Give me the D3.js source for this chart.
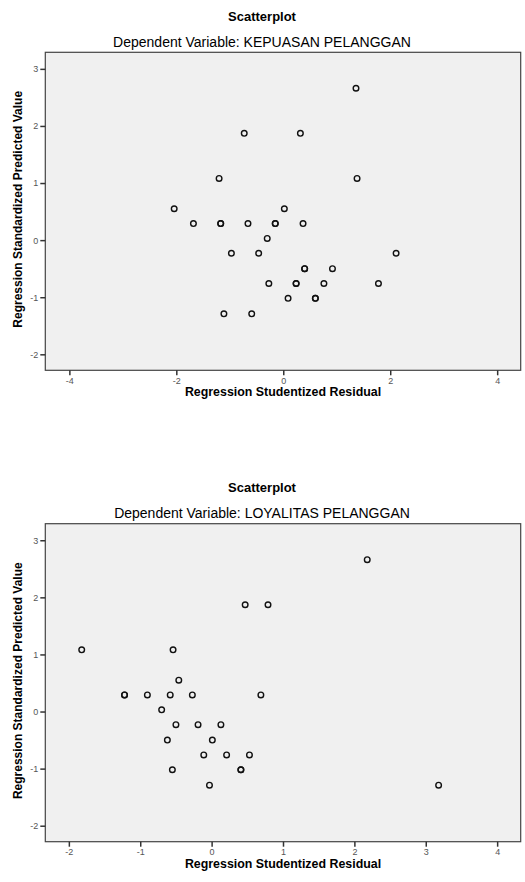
<!DOCTYPE html>
<html>
<head>
<meta charset="utf-8">
<script src="https://cdn.jsdelivr.net/npm/d3@7"></script>
<style>
  body { margin: 0; background: #fff; }
  svg { display: block; }
  text { font-family: "Liberation Sans", Arial, sans-serif; }
</style>
</head>
<body>
<svg id="chart" width="525" height="882"></svg>
<script>
// chart 1 - KEPUASAN PELANGGAN
const residual1 = [1.36, -0.73, 0.32, -1.20, 1.38, -2.04, 0.02, -1.68, -1.17, -1.17, -0.66, -0.15, -0.15, 0.37,
                   -0.30, -0.97, -0.46, 2.11, 0.40, 0.40, 0.92, -0.27, 0.24, 0.24, 0.76, 1.78, 0.09, 0.60, 0.60, -1.11, -0.59];
const predicted1 = [2.66, 1.87, 1.87, 1.08, 1.08, 0.55, 0.55, 0.29, 0.29, 0.29, 0.29, 0.29, 0.29, 0.29,
                    0.03, -0.23, -0.23, -0.23, -0.50, -0.50, -0.50, -0.76, -0.76, -0.76, -0.76, -0.76, -1.02, -1.02, -1.02, -1.29, -1.29];

// chart 2 - LOYALITAS PELANGGAN
const residual2 = [2.18, 0.47, 0.79, -1.82, -0.54, -0.46, -1.22, -1.22, -0.90, -0.58, -0.27, 0.69,
                   -0.70, -0.50, -0.19, 0.13, -0.62, 0.01, -0.11, 0.21, 0.53, -0.55, 0.41, 0.41, -0.03, 3.18];
const predicted2 = [2.66, 1.87, 1.87, 1.08, 1.08, 0.55, 0.29, 0.29, 0.29, 0.29, 0.29, 0.29,
                    0.03, -0.23, -0.23, -0.23, -0.50, -0.50, -0.76, -0.76, -0.76, -1.02, -1.02, -1.02, -1.29, -1.29];

const xTicks1 = [-4, -2, 0, 2, 4];
const xTicks2 = [-2, -1, 0, 1, 2, 3, 4];
const yTicks = [-2, -1, 0, 1, 2, 3];

const svg = d3.select("#chart");
const tickFmt = d => String(d);   // plain hyphen minus like SPSS

function drawScatter(top, subtitle, xs, ys, xDomain, xTicks) {
  const margin = {left: 45.3, right: 4.3},
        plotTop = top + 52.3,
        plotH = 318,
        width = 525 - margin.left - margin.right;

  const g = svg.append("g")
               .attr("transform", "translate(" + margin.left + "," + plotTop + ")");

  const xScale = d3.scaleLinear().domain(xDomain).range([0, width]),
        yScale = d3.scaleLinear().domain([-2.28, 3.29]).range([plotH, 0]);

  // Titles
  svg.append("text")
     .attr("x", 262)
     .attr("y", top + 21)
     .attr("text-anchor", "middle")
     .style("font-size", "13px")
     .style("font-weight", "bold")
     .text("Scatterplot");

  svg.append("text")
     .attr("x", 262)
     .attr("y", top + 47)
     .attr("text-anchor", "middle")
     .style("font-size", "14px")
     .text("Dependent Variable: " + subtitle);

  // plot area
  g.append("rect")
   .attr("width", width)
   .attr("height", plotH)
   .attr("fill", "#f0f0f0")
   .attr("stroke", "#444")
   .attr("stroke-width", 1.2);

  // X axis
  const xAxis = g.append("g")
   .attr("transform", "translate(0," + plotH + ")")
   .call(d3.axisBottom(xScale).tickValues(xTicks).tickFormat(tickFmt).tickSize(5).tickPadding(2));
  xAxis.select(".domain").remove();
  xAxis.selectAll("line").attr("stroke", "#333").attr("stroke-width", 1.5);
  xAxis.selectAll("text").attr("fill", "#555").style("font-size", "9px").style("font-family", "'Liberation Sans', Arial, sans-serif");

  g.append("text")
   .attr("x", 283 - margin.left)
   .attr("y", plotH + 26)
   .attr("text-anchor", "middle")
   .style("font-size", "12.4px")
   .style("font-weight", "bold")
   .text("Regression Studentized Residual");

  // Y axis
  const yAxis = g.append("g")
   .call(d3.axisLeft(yScale).tickValues(yTicks).tickFormat(tickFmt).tickSize(5).tickPadding(2));
  yAxis.select(".domain").remove();
  yAxis.selectAll("line").attr("stroke", "#333").attr("stroke-width", 1.5);
  yAxis.selectAll("text").attr("fill", "#555").style("font-size", "9px").style("font-family", "'Liberation Sans', Arial, sans-serif");

  g.append("text")
   .attr("transform", "rotate(-90)")
   .attr("x", -plotH / 2 + 2)
   .attr("y", -23)
   .attr("text-anchor", "middle")
   .style("font-size", "12px")
   .style("font-weight", "bold")
   .text("Regression Standardized Predicted Value");

  // points
  g.selectAll("circle.pt")
   .data(xs.map((d, i) => ({x: d, y: ys[i]})))
   .join("circle")
   .attr("class", "pt")
   .attr("cx", d => xScale(d.x))
   .attr("cy", d => yScale(d.y))
   .attr("r", 2.8)
   .attr("fill", "none")
   .attr("stroke", "#111")
   .attr("stroke-width", 1.4);
}

drawScatter(0, "KEPUASAN PELANGGAN", residual1, predicted1, [-4.45, 4.44], xTicks1);
drawScatter(471.4, "LOYALITAS PELANGGAN", residual2, predicted2, [-2.33, 4.33], xTicks2);
</script>
</body>
</html>
